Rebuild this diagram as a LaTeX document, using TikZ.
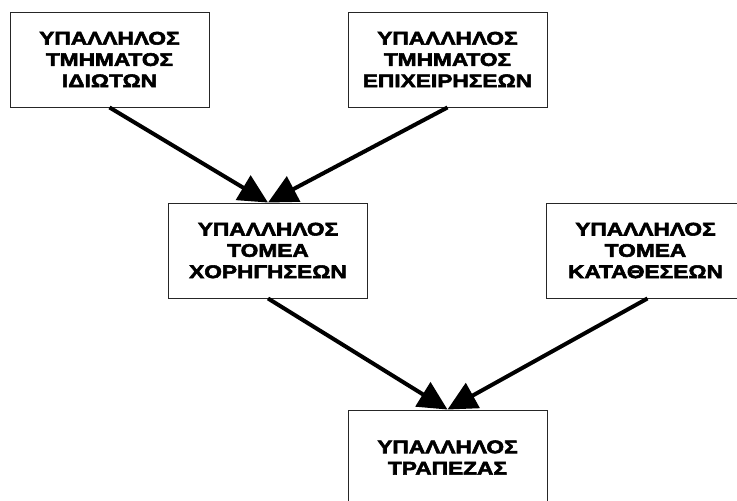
\documentclass[tikz,border=0pt]{standalone}
\usepackage{fontspec}
\setmainfont{Liberation Sans}
\newfontfamily\bx{Liberation Sans Bold}[FakeStretch=1.24,FakeBold=3]
\usetikzlibrary{arrows.meta}
\begin{document}
\begin{tikzpicture}[x=1pt,y=-1pt,
  box/.style={draw=black!85,line width=0.9pt,minimum width=199pt,minimum height=95pt,
    align=center,font=\bx\fontsize{18.3}{21.3}\selectfont,inner sep=0pt},
  conn/.style={line width=4pt,-{Triangle[length=29pt,width=28pt]}}]
\useasboundingbox (0,0) rectangle (737,501);
\clip (0,0) rectangle (737,501);
\fill[white] (0,0) rectangle (737,501);
\node[box] (b1) at (109.5,59.5) {ΥΠΑΛΛΗΛΟΣ\\ΤΜΗΜΑΤΟΣ\\ΙΔΙΩΤΩΝ};
\node[box] (b2) at (447.5,59.5) {ΥΠΑΛΛΗΛΟΣ\\ΤΜΗΜΑΤΟΣ\\ΕΠΙΧΕΙΡΗΣΕΩΝ};
\node[box] (b3) at (268,250.5) {ΥΠΑΛΛΗΛΟΣ\\ΤΟΜΕΑ\\ΧΟΡΗΓΗΣΕΩΝ};
\node[box] (b4) at (645.5,250.5) {ΥΠΑΛΛΗΛΟΣ\\ΤΟΜΕΑ\\ΚΑΤΑΘΕΣΕΩΝ};
\node[box] (b5) at (447.5,457.5) {ΥΠΑΛΛΗΛΟΣ\\ΤΡΑΠΕΖΑΣ};
\draw[conn] (b1.south) -- (b3.north);
\draw[conn] (b2.south) -- (b3.north);
\draw[conn] (b3.south) -- (b5.north);
\draw[conn] ([xshift=2pt]b4.south) -- (b5.north);
\end{tikzpicture}
\end{document}
